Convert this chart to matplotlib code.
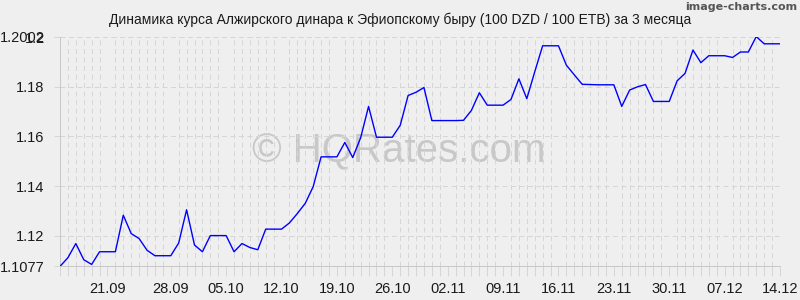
# Algerian dinar to Ethiopian birr, 3 months (100 DZD / 100 ETB)
from matplotlib import pyplot as plt
import numpy as np

# daily rate values
rates = [
    1.1077, 1.1112, 1.1169, 1.1104, 1.1085, 1.1136, 1.1136, 1.1136, 1.1283, 1.1209,
    1.1189, 1.1142, 1.1120, 1.1120, 1.1120, 1.1171, 1.1305, 1.1163, 1.1136, 1.1201,
    1.1201, 1.1201, 1.1136, 1.1169, 1.1153, 1.1144, 1.1227, 1.1227, 1.1227, 1.1252,
    1.1290, 1.1331, 1.1398, 1.1518, 1.1518, 1.1518, 1.1576, 1.1515, 1.1595, 1.1721,
    1.1597, 1.1597, 1.1597, 1.1645, 1.1765, 1.1778, 1.1797, 1.1664, 1.1664, 1.1664,
    1.1664, 1.1665, 1.1705, 1.1776, 1.1726, 1.1726, 1.1726, 1.1749, 1.1832, 1.1752,
    1.1860, 1.1965, 1.1965, 1.1965, 1.1887, 1.1848, 1.1810, 1.1809, 1.1808, 1.1808,
    1.1808, 1.1721, 1.1787, 1.1800, 1.1809, 1.1741, 1.1741, 1.1741, 1.1824, 1.1854,
    1.1948, 1.1897, 1.1925, 1.1925, 1.1925, 1.1918, 1.1940, 1.1940, 1.2002, 1.1973,
    1.1973, 1.1973,
]

# date labels and the point index where each one sits
date_labels = ['21.09', '28.09', '05.10', '12.10', '19.10', '26.10', '02.11',
               '09.11', '16.11', '23.11', '30.11', '07.12', '14.12']
date_idx = [6, 14, 21, 28, 35, 42, 49, 56, 63, 70, 77, 84, 91]

y_ticks = [1.1077, 1.12, 1.14, 1.16, 1.18, 1.2, 1.2002]
y_labels = ['1.1077', '1.12', '1.14', '1.16', '1.18', '1.2', '1.2002']

title = 'Динамика курса Алжирского динара к Эфиопскому быру (100 DZD / 100 ETB) за 3 месяца'

plt.rcParams['font.family'] = ['Liberation Sans', 'DejaVu Sans']
bg = '#efefef'
grid_col = '#d6d6d6'

fig = plt.figure(figsize=(8, 3), dpi=100, facecolor=bg)
ax = fig.add_axes([0.075, 0.112, 0.9, 0.766], facecolor=bg)

x = np.arange(len(rates))
ax.plot(x, rates, color='#0000ff', lw=1.0, zorder=3)

ax.set_xlim(0, len(rates) - 1)
ax.set_ylim(min(rates), max(rates))

ax.set_yticks(y_ticks)
ax.set_yticklabels(y_labels)
ax.set_xticks(date_idx)
ax.set_xticklabels(date_labels)
ax.set_xticks(x, minor=True)

ax.tick_params(axis='y', length=4, width=0.72, color=grid_col, pad=7, labelsize=10.5,
               labelcolor='#1a1a1a')
ax.tick_params(axis='x', which='both', length=7, width=0.72, color=grid_col, pad=4,
               labelsize=10.5, labelcolor='#1a1a1a')

dash = (0, (5, 3.5))
ax.grid(True, axis='y', color=grid_col, linestyle=dash, lw=0.72)
ax.grid(True, axis='x', which='minor', color=grid_col, linestyle=dash, lw=0.72)

for side in ['top', 'right']:
    ax.spines[side].set_visible(False)
for side in ['left', 'bottom']:
    ax.spines[side].set_color('#c8c8c8')
    ax.spines[side].set_linewidth(0.72)

fig.text(0.5, 0.935, title, ha='center', va='center', fontsize=10, color='#1a1a1a')
fig.text(0.996, 0.975, 'image-charts.com', ha='right', va='center', fontsize=8,
         family=['Liberation Sans Narrow', 'DejaVu Sans'], fontweight='bold', color='#555555')
ax.text(0.47, 0.5, '© HQRates.com', transform=ax.transAxes, ha='center', va='center',
        fontsize=29, color='#c8c8c8', zorder=1)

plt.savefig('out.png', dpi=100, facecolor=bg)
